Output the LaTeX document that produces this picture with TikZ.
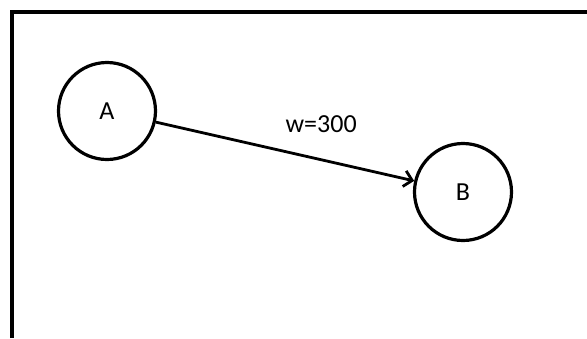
\documentclass[tikz,border=0pt]{standalone}
\usepackage{fontspec}
\setmainfont{Carlito}
\usetikzlibrary{arrows.meta}
\begin{document}
\begin{tikzpicture}[x=1pt,y=-1pt,
  vertex/.style={circle,draw,line width=3.2pt,minimum size=97pt,inner sep=0pt,font=\fontsize{26}{30}\selectfont},
  edge/.style={line width=2.8pt,-{Straight Barb[length=8pt,width=16pt]}},
  lbl/.style={font=\fontsize{26}{30}\selectfont}]
\useasboundingbox (0,0) rectangle (587,338);
\draw[line width=4pt] (12,338) -- (12,12) -- (587,12);
\node[vertex] (A) at (107,111) {A};
\node[vertex] (B) at (463,192) {B};
\draw[edge] (A) -- (B) node[pos=0.64,yshift=36pt,lbl] (w) {w=300};
\end{tikzpicture}
\end{document}
